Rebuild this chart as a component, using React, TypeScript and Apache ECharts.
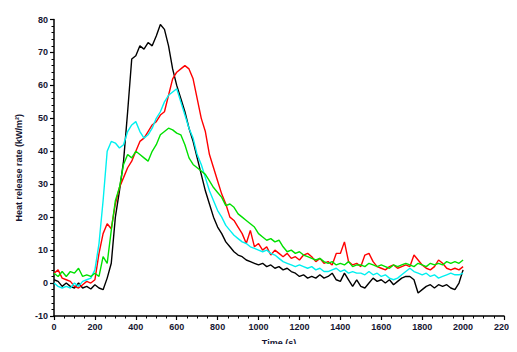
import React, { useEffect, useRef } from "react";
import * as echarts from "echarts";

// Sample times (s), one reading every 20 s from 0 to 2000 s
const times: number[] = Array.from({ length: 101 }, (_, i) => i * 20);

// Heat release rate (kW/m²) for the four specimens
const blackHRR: number[] = [
  1, 0.5, -1, 0, -1, -1.5, 0, -1.5, -1, -1.8, -0.5, -1.5, -2, 1.5, 6, 20, 28, 37, 52, 68,
  69, 72, 71, 73, 72, 75, 78.5, 77, 72, 65, 60, 56, 52, 47, 43, 38, 33, 28, 24, 20,
  17, 15, 12.5, 11, 9.5, 8.5, 8, 7, 6.5, 6, 5.5, 6, 5, 5.5, 4.5, 5, 4, 4.5, 3.5, 3,
  2, 2.5, 1.5, 2, 1.5, 2.5, 1.5, 2, 3, 1, 0.5, 3, 1, -1, 1, -1, -1.5, 0, 1.5, 0.5,
  1, 0, 1, -0.5, 0.5, 1.5, 2, 2, 1, -3, -2, -1, -0.5, -1.5, -0.5, -1, -0.5, -1.5, -2, 0,
  4,
];
const redHRR: number[] = [
  3, 4, 1.5, 1, 0.5, -1, -1.5, -0.5, 0.5, 0, 1, 9, 15, 18, 16.5, 24, 29, 32, 35, 37,
  40, 43, 44, 46, 48, 49, 51, 52, 57, 62, 64, 65, 66, 65, 62, 56, 50, 46, 39, 35,
  31, 27, 24, 20, 19, 17, 15, 12, 16, 11, 12, 10, 11, 8.5, 10, 9, 8, 9, 7.5, 8,
  7, 8.5, 9, 8, 6.5, 7.5, 6, 6.5, 5.5, 9, 9, 12.5, 6.5, 5.5, 6, 5, 8.5, 9, 6.5, 5,
  4.5, 4, 5, 5.5, 4.5, 5, 5.5, 5, 8.5, 7, 5.5, 4.5, 4, 5, 7, 6, 4.5, 4, 4.5, 4,
  5,
];
const cyanHRR: number[] = [
  0, -1, -1.5, -1, -1.5, 0, -1, 0.5, 1, 1.5, 4, 12, 25, 40, 43, 42.5, 41, 42, 46, 48,
  49, 46, 44, 45, 47, 50, 52, 55, 57, 58, 59, 55, 51, 47, 44, 39, 36, 32, 28, 25,
  22, 20, 17.5, 16, 14.5, 13.5, 12.5, 12, 11, 10.5, 10, 9.5, 10, 9, 8.5, 7.5, 6.5, 6, 5.5, 5,
  5.5, 5, 4.5, 5, 4, 4.5, 3.5, 3.5, 4, 4.5, 3.5, 4, 3, 3.5, 3, 3, 2.5, 3.5, 2.5, 3,
  2, 2.5, 1.5, 1, 1.5, 2.5, 3.5, 4.5, 3.5, 3, 2.5, 3, 2, 2.5, 1.5, 2, 2.5, 3, 2.5, 2.5,
  3,
];
const greenHRR: number[] = [
  3, 2, 3.5, 2, 3.5, 3, 4.5, 2, 2.5, 2, 3, 2, 8, 6, 16, 25, 29, 36, 39, 38,
  40, 39, 38, 37, 40, 42, 45, 46, 47, 46.5, 45.5, 45, 42, 38, 36, 35, 34, 33, 31, 29,
  27.5, 26, 23.5, 24, 23, 21, 20, 19, 18, 17, 15, 14, 13, 13.5, 12.5, 13, 11, 9.5, 10, 9,
  9.5, 8.5, 8, 7.5, 7, 7.5, 6.5, 6, 6.5, 5.5, 6, 5.5, 6.5, 5, 5.5, 5.5, 5, 6, 5.5, 5,
  5.5, 5, 4.5, 5.5, 5, 5.5, 6, 5.5, 5, 6, 5.5, 5, 6, 5.5, 6, 5.5, 6.5, 6, 6.5, 6,
  7,
];

const xTicks = { min: 0, max: 2200, step: 200 };
const yTicks = { min: -10, max: 80, step: 10 };

const pair = (vals: number[]) => vals.map((v, i) => [times[i], v]);

const labelStyle = {
  color: "#161632",
  fontFamily: "Liberation Sans, Arial, sans-serif",
  fontWeight: "bold" as const,
  fontSize: 9,
};

export default function App() {
  const ref = useRef<HTMLDivElement>(null);

  useEffect(() => {
    if (!ref.current) return;
    const chart = echarts.init(ref.current, undefined, { renderer: "svg" });
    const line = (name: string, color: string, vals: number[]) => ({
      name,
      type: "line",
      data: pair(vals),
      showSymbol: false,
      lineStyle: { color, width: 1.4 },
      itemStyle: { color },
    });
    const plain = (v: number) => String(v);
    chart.setOption({
      animation: false,
      backgroundColor: "#ffffff",
      grid: { left: 54, right: 7, top: 19.5, bottom: 31, containLabel: false },
      xAxis: {
        type: "value",
        min: xTicks.min,
        max: xTicks.max,
        interval: xTicks.step,
        name: "Time (s)",
        nameLocation: "middle",
        nameGap: 22,
        nameTextStyle: { ...labelStyle, fontSize: 9 },
        axisLine: { show: true, onZero: false, lineStyle: { color: "#000", width: 1.5 } },
        axisTick: { show: true, inside: false, length: 4, lineStyle: { color: "#000", width: 1.2 } },
        minorTick: { show: true, splitNumber: 4, length: 2.5, lineStyle: { color: "#000", width: 1 } },
        splitLine: { show: false },
        axisLabel: { ...labelStyle, margin: 6, formatter: plain },
      },
      yAxis: {
        type: "value",
        min: yTicks.min,
        max: yTicks.max,
        interval: yTicks.step,
        name: "Heat release rate (kW/m²)",
        nameLocation: "middle",
        nameGap: 31,
        nameTextStyle: { ...labelStyle, fontSize: 9 },
        axisLine: { show: true, onZero: false, lineStyle: { color: "#000", width: 1.5 } },
        axisTick: { show: true, inside: false, length: 4, lineStyle: { color: "#000", width: 1.2 } },
        minorTick: { show: true, splitNumber: 5, length: 2.5, lineStyle: { color: "#000", width: 1 } },
        splitLine: { show: false },
        axisLabel: { ...labelStyle, margin: 6, formatter: plain },
      },
      series: [
        line("Specimen A", "#000000", blackHRR),
        line("Specimen B", "#ff0000", redHRR),
        line("Specimen C", "#00f0f0", cyanHRR),
        line("Specimen D", "#00e000", greenHRR),
      ],
    });
    return () => chart.dispose();
  }, []);

  return <div ref={ref} style={{ width: 517, height: 352, margin: -8 }} />;
}
